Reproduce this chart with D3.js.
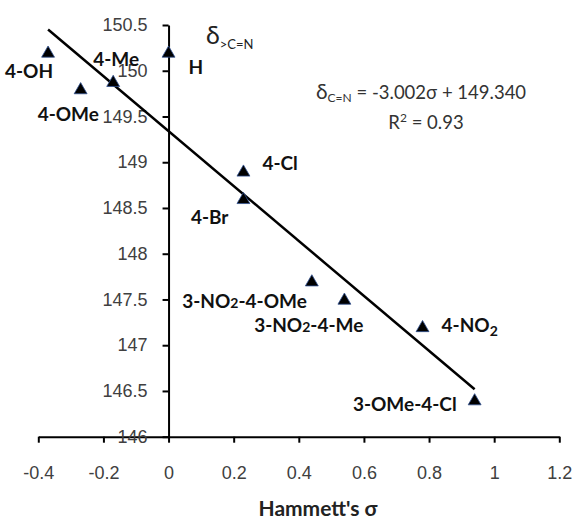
<!DOCTYPE html>
<html>
<head>
<meta charset="utf-8">
<script src="https://cdn.jsdelivr.net/npm/d3@7"></script>
<style>
  html, body { margin: 0; padding: 0; background: #fff; }
  svg { display: block; font-family: Lato, "Open Sans", sans-serif; }
  .tick text { fill: #404040; font-size: 18px; }
  .tick line, .domain { stroke: #000; stroke-width: 2; }
  .pt-label { font-weight: bold; font-size: 19px; fill: #111; }
</style>
</head>
<body>
<svg id="chart" width="574" height="521"></svg>
<script>
// Hammett plot: imine carbon shift vs sigma
const substituents = ["4-OH", "4-OMe", "4-Me", "H", "4-Cl", "4-Br",
  "3-NO2-4-OMe", "3-NO2-4-Me", "4-NO2", "3-OMe-4-Cl"];
const sigma = [-0.37, -0.27, -0.17, 0, 0.23, 0.23, 0.44, 0.54, 0.78, 0.94];
const shift = [150.2, 149.8, 149.88, 150.2, 148.9, 148.6, 147.7, 147.5, 147.2, 146.4];
const xTicks = [-0.4, -0.2, 0, 0.2, 0.4, 0.6, 0.8, 1, 1.2];
const yTicks = [146, 146.5, 147, 147.5, 148, 148.5, 149, 149.5, 150, 150.5];
const slope = -3.002;
const intercept = 149.34;
const fitRange = [-0.37, 0.94];

// label placement relative to each marker (pixels)
const labelOffsets = [
  { dx: 5, dy: 19, anchor: "end" },
  { dx: -43, dy: 25, anchor: "start" },
  { dx: -20, dy: -23, anchor: "start" },
  { dx: 20, dy: 15, anchor: "start" },
  { dx: 19, dy: -8, anchor: "start" },
  { dx: -15, dy: 18, anchor: "end" },
  { dx: -5, dy: 20, anchor: "end" },
  { dx: 19, dy: 26, anchor: "end" },
  { dx: 19, dy: -2, anchor: "start" },
  { dx: -18, dy: 4, anchor: "end" },
];

const svg = d3.select("#chart");
const x = d3.scaleLinear().domain([-0.4, 1.2]).range([38.3, 559.3]);
const y = d3.scaleLinear().domain([146, 150.5]).range([436.7, 25]);

const fmt = (d) => String(+d.toFixed(1));

// axes
svg.append("g")
  .attr("transform", `translate(0,${y(146)})`)
  .call(d3.axisBottom(x).tickValues(xTicks).tickSize(6).tickSizeOuter(0)
    .tickPadding(24).tickFormat(fmt));

svg.append("g")
  .attr("transform", `translate(${x(0)},0)`)
  .call(d3.axisLeft(y).tickValues(yTicks).tickSize(6).tickSizeOuter(0)
    .tickPadding(15).tickFormat(fmt));

// regression line
const line = d3.line().x((d) => x(d)).y((d) => y(slope * d + intercept));
svg.append("path")
  .datum(fitRange)
  .attr("d", line)
  .attr("fill", "none")
  .attr("stroke", "#000")
  .attr("stroke-width", 2.5);

// markers
const points = substituents.map((name, i) => ({ name, s: sigma[i], v: shift[i], off: labelOffsets[i] }));
const tri = d3.symbol().type(d3.symbolTriangle).size(72);
svg.selectAll("path.pt")
  .data(points)
  .join("path")
  .attr("class", "pt")
  .attr("transform", (d) => `translate(${x(d.s)},${y(d.v) + 1})`)
  .attr("d", tri)
  .attr("fill", "#000")
  .attr("stroke", "#2f4f8f")
  .attr("stroke-width", 0.8);

// point labels
const labels = svg.selectAll("text.pt-label")
  .data(points)
  .join("text")
  .attr("class", "pt-label")
  .attr("x", (d) => x(d.s) + d.off.dx)
  .attr("y", (d) => y(d.v) + d.off.dy + 7)
  .attr("text-anchor", (d) => d.off.anchor);

labels.each(function (d) {
  const t = d3.select(this);
  const m = d.name.match(/^(.*NO)2(.*)$/);
  if (!m) { t.text(d.name); return; }
  t.append("tspan").text(m[1]);
  if (d.name === "4-NO2") {
    t.append("tspan").attr("font-size", 14).attr("dy", 4).text("2");
  } else {
    t.append("tspan").attr("font-size", 14).text("2");
    t.append("tspan").text(m[2]);
  }
});

// y axis title
const yTitle = svg.append("text").attr("x", 206).attr("y", 44).attr("fill", "#222");
yTitle.append("tspan").attr("font-size", 25).text("δ");
yTitle.append("tspan").attr("font-size", 13).attr("dy", 5).text(">C=N");

// x axis title
svg.append("text")
  .attr("x", 318).attr("y", 516)
  .attr("text-anchor", "middle")
  .attr("font-weight", "bold").attr("font-size", 21).attr("fill", "#222")
  .text("Hammett's σ");

// equation
const eq = svg.append("text").attr("x", 316).attr("y", 99).attr("fill", "#333").attr("font-size", 18.5);
eq.append("tspan").attr("font-size", 21).text("δ");
eq.append("tspan").attr("font-size", 12).attr("dy", 3).text("C=N");
eq.append("tspan").attr("dy", -3).text(` = ${slope.toFixed(3)}σ + ${intercept.toFixed(3)}`);

const r2 = svg.append("text").attr("x", 426).attr("y", 129).attr("text-anchor", "middle")
  .attr("fill", "#333").attr("font-size", 18.5);
r2.append("tspan").text("R");
r2.append("tspan").attr("font-size", 12).attr("dy", -7).text("2");
r2.append("tspan").attr("dy", 7).text(" = 0.93");
</script>
</body>
</html>
